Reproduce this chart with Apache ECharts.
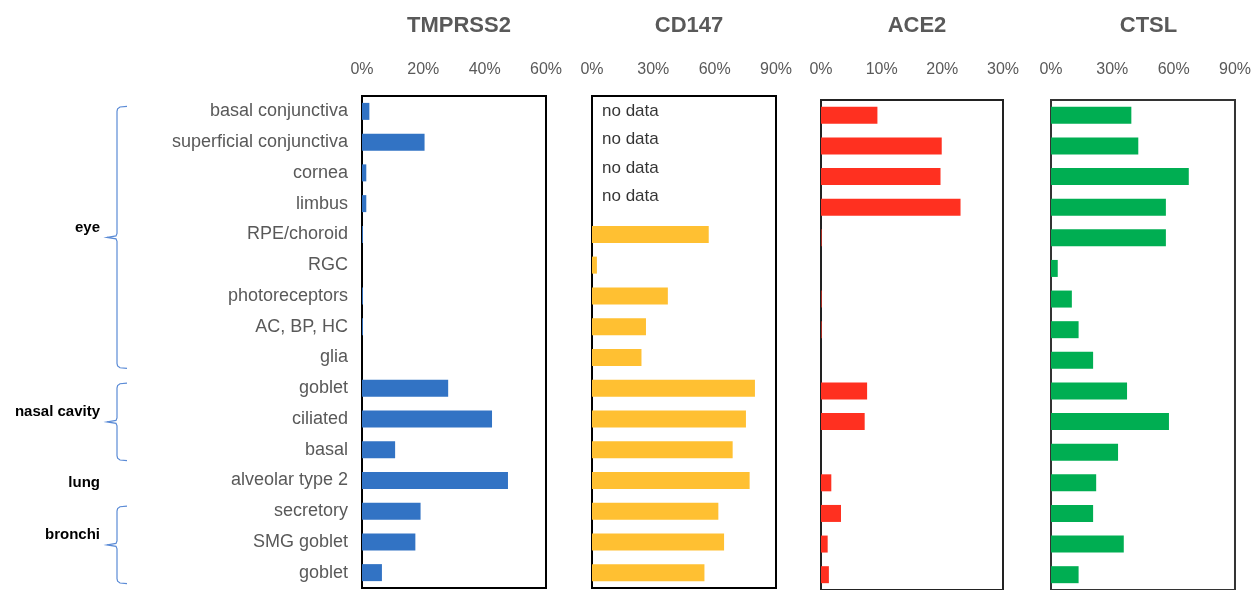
<!DOCTYPE html>
<html>
<head>
<meta charset="utf-8">
<script src="https://cdn.jsdelivr.net/npm/echarts@6/dist/echarts.min.js"></script>
<style>
	html, body { margin: 0; padding: 0; background: #fff; }
	#chart { width: 1254px; height: 590px; }
</style>
</head>
<body>
<div id="chart"></div>
<script>
// cell types, top to bottom
var categories = ['basal conjunctiva', 'superficial conjunctiva', 'cornea', 'limbus', 'RPE/choroid', 'RGC',
	'photoreceptors', 'AC, BP, HC', 'glia', 'goblet', 'ciliated', 'basal', 'alveolar type 2',
	'secretory', 'SMG goblet', 'goblet'];

// % of cells expressing each gene
var tmprss2 = [2.4, 20.4, 1.4, 1.4, 0.3, 0, 0.3, 0.3, 0, 28.1, 42.4, 10.8, 47.6, 19.1, 17.4, 6.5];
var cd147 = [null, null, null, null, 57.1, 2.4, 37.1, 26.4, 24.2, 79.7, 75.3, 68.8, 77.1, 61.8, 64.6, 55.0];
var ace2 = [9.3, 19.9, 19.7, 23.0, 0.1, 0, 0.1, 0.1, 0, 7.6, 7.2, 0, 1.7, 3.3, 1.1, 1.3];
var ctsl = [39.3, 42.7, 67.4, 56.2, 56.2, 3.3, 10.2, 13.5, 20.6, 37.2, 57.7, 32.8, 22.1, 20.6, 35.6, 13.5];

var genes = ['TMPRSS2', 'CD147', 'ACE2', 'CTSL'];
var axisMax = [60, 90, 30, 90];
var axisStep = [20, 30, 10, 30];

// tissue groups (index range into categories)
var groupNames = ['eye', 'nasal cavity', 'lung', 'bronchi'];
var groupFirst = [0, 9, 12, 13];
var groupLast = [8, 11, 12, 15];

var colors = ['#3273C4', '#FFC032', '#FF3020', '#00AE52'];
var gridLeft = [362, 592, 821, 1051];
var gridWidth = [184, 184, 182, 185];
var gridTop = [96, 96, 100, 100];
var borderColors = ['#000', '#000', '#222', '#333'];
var allData = [tmprss2, cd147, ace2, ctsl];
var font = '"Liberation Sans", Arial, sans-serif';

var chart = echarts.init(document.getElementById('chart'));

var grids = [], xAxes = [], yAxes = [], series = [], titles = [];
for (var i = 0; i < 4; i++) {
	grids.push({
		left: gridLeft[i], width: gridWidth[i], top: gridTop[i], height: 492,
		show: true, borderColor: borderColors[i], borderWidth: 2, backgroundColor: 'transparent'
	});
	xAxes.push({
		type: 'value', gridIndex: i, position: 'top', min: 0, max: axisMax[i], interval: axisStep[i],
		axisLine: {show: false}, axisTick: {show: false}, splitLine: {show: false},
		axisLabel: {
			formatter: '{value}%', color: '#595959', fontSize: 16,
			fontFamily: font, margin: gridTop[i] - 78
		}
	});
	yAxes.push({
		type: 'category', gridIndex: i, data: categories, inverse: true,
		axisLine: {show: false}, axisTick: {show: false}, splitLine: {show: false},
		axisLabel: {
			show: i == 0, color: '#595959', fontSize: 18,
			fontFamily: font, margin: 14
		}
	});
	series.push({
		name: genes[i], type: 'bar', xAxisIndex: i, yAxisIndex: i,
		data: allData[i], barWidth: 17,
		itemStyle: {color: colors[i]},
		silent: true
	});
	titles.push({
		text: genes[i], left: gridLeft[i] + gridWidth[i] / 2, top: 10, textAlign: 'center',
		textStyle: {color: '#595959', fontSize: 22, fontWeight: 'bold', fontFamily: font}
	});
}

// "no data" notes for CD147 where there is no value
var noData = [];
for (var k = 0; k < cd147.length; k++) {
	if (cd147[k] == null) {
		noData.push({value: [0, k], label: {offset: [0, -k * 2.4]}});
	}
}
series.push({
	type: 'scatter', xAxisIndex: 1, yAxisIndex: 1, data: noData,
	symbolSize: 0, silent: true,
	label: {
		show: true, position: 'right', distance: 10, formatter: 'no data',
		color: '#000', fontSize: 17, fontFamily: font
	}
});

chart.setOption({
	animation: false,
	title: titles,
	grid: grids,
	xAxis: xAxes,
	yAxis: yAxes,
	series: series
});

// group brackets and labels on the left
var graphics = [];
for (var g = 0; g < groupNames.length; g++) {
	var yFirst = chart.convertToPixel({gridIndex: 0}, [0, groupFirst[g]])[1];
	var yLast = chart.convertToPixel({gridIndex: 0}, [0, groupLast[g]])[1];
	var labelY;
	if (groupFirst[g] != groupLast[g]) {
		var t = yFirst - 5, b = yLast + 11, m = (t + b) / 2;
		graphics.push({
			type: 'polyline',
			shape: {
				points: [[127, t], [120, t + 0.6], [117.6, t + 2.4], [117, t + 5],
					[117, m - 4], [116, m - 1.5], [107, m], [116, m + 1.5], [117, m + 4],
					[117, b - 5], [117.6, b - 2.4], [120, b - 0.6], [127, b]]
			},
			style: {fill: null, stroke: '#5B8BD6', lineWidth: 1.2}
		});
		labelY = m - 10;
	} else {
		labelY = yFirst + 2;
	}
	graphics.push({
		type: 'text', x: 100, y: labelY,
		style: {
			text: groupNames[g], align: 'right', verticalAlign: 'middle',
			fill: '#000', font: 'bold 15px "Liberation Sans", Arial, sans-serif'
		}
	});
}
chart.setOption({graphic: graphics});
</script>
</body>
</html>
